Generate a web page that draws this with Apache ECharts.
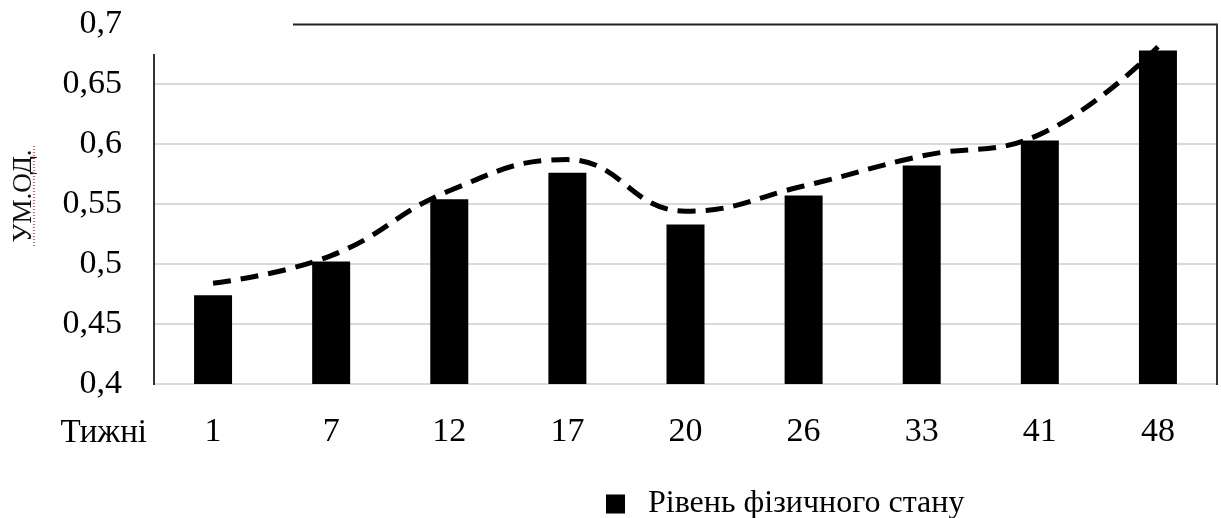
<!DOCTYPE html>
<html>
<head>
<meta charset="utf-8">
<script src="https://cdn.jsdelivr.net/npm/echarts@6/dist/echarts.min.js"></script>
<style>
html,body{margin:0;padding:0;background:#fff;}
#chart{width:1221px;height:518px;}
</style>
</head>
<body>
<div id="chart"></div>
<script>
const categories = ['1', '7', '12', '17', '20', '26', '33', '41', '48'];
const barValues = [0.474, 0.502, 0.554, 0.576, 0.533, 0.557, 0.582, 0.603, 0.678];
const trendValues = [0.484, 0.507, 0.561, 0.587, 0.544, 0.565, 0.590, 0.608, 0.681];
const yMin = 0.4, yMax = 0.7, yStep = 0.05;
const seriesName = 'Рівень фізичного стану';
const xAxisTitle = 'Тижні';
const yAxisTitle = 'УМ.ОД.';

const FONT = '"Liberation Serif", "Times New Roman", serif';
const chart = echarts.init(document.getElementById('chart'));
chart.setOption({
  animation: false,
  backgroundColor: '#fff',
  textStyle: { fontFamily: FONT },
  grid: { left: 154, right: 4, top: 24, bottom: 134, containLabel: false },
  legend: {
    data: [seriesName],
    left: 601, top: 483,
    icon: 'rect', itemWidth: 19, itemHeight: 19,
    textStyle: { fontFamily: FONT, fontSize: 32, color: '#000', padding: [8, 0, 0, 18] }
  },
  xAxis: {
    type: 'category',
    data: categories,
    axisLine: { show: false },
    axisTick: { show: false },
    axisLabel: { fontFamily: FONT, fontSize: 34, color: '#000', margin: 31 },
    splitLine: { show: false }
  },
  yAxis: {
    type: 'value',
    min: yMin, max: yMax, interval: yStep,
    axisLine: { show: false },
    axisTick: { show: false },
    axisLabel: {
      fontFamily: FONT, fontSize: 34, color: '#000', margin: 32,
      formatter: v => String(+v.toFixed(2)).replace('.', ',')
    },
    splitLine: { show: true, showMaxLine: false, lineStyle: { color: '#d9d9d9', width: 2 } }
  },
  series: [
    {
      name: seriesName,
      type: 'bar',
      data: barValues,
      barWidth: 38,
      itemStyle: { color: '#000' }
    },
    {
      name: 'trend',
      type: 'line',
      data: trendValues,
      smooth: 0.45,
      symbol: 'none',
      lineStyle: { color: '#000', width: 5, type: [18, 10], cap: 'butt' },
      z: 5
    }
  ]
});

const yTop = chart.convertToPixel({ yAxisIndex: 0 }, yMax);
const yBot = chart.convertToPixel({ yAxisIndex: 0 }, yMin);
const yAxStart = chart.convertToPixel({ yAxisIndex: 0 }, 0.675);
const xLeft = 154, xRight = 1217;
chart.setOption({
  graphic: [
    { type: 'line', shape: { x1: 293, y1: yTop + 0.5, x2: xRight + 1, y2: yTop + 0.5 }, style: { stroke: '#222', lineWidth: 2 }, silent: true },
    { type: 'line', shape: { x1: xRight, y1: yTop, x2: xRight, y2: yBot + 1 }, style: { stroke: '#333', lineWidth: 2 }, silent: true },
    { type: 'line', shape: { x1: xLeft, y1: yAxStart, x2: xLeft, y2: yBot + 1 }, style: { stroke: '#333', lineWidth: 2 }, silent: true },
    { type: 'text', x: 147, y: 433, style: { text: xAxisTitle, font: '33px ' + FONT, fill: '#000', align: 'right', verticalAlign: 'middle' } },
    { type: 'text', x: 24, y: 196, rotation: Math.PI / 2, style: { text: yAxisTitle, font: '27px ' + FONT, fill: '#111', align: 'center', verticalAlign: 'middle' } },
    { type: 'line', shape: { x1: 34, y1: 146, x2: 34, y2: 246 }, style: { stroke: '#e03030', lineWidth: 1.5, lineDash: [1, 2] }, silent: true }
  ]
});
</script>
</body>
</html>
